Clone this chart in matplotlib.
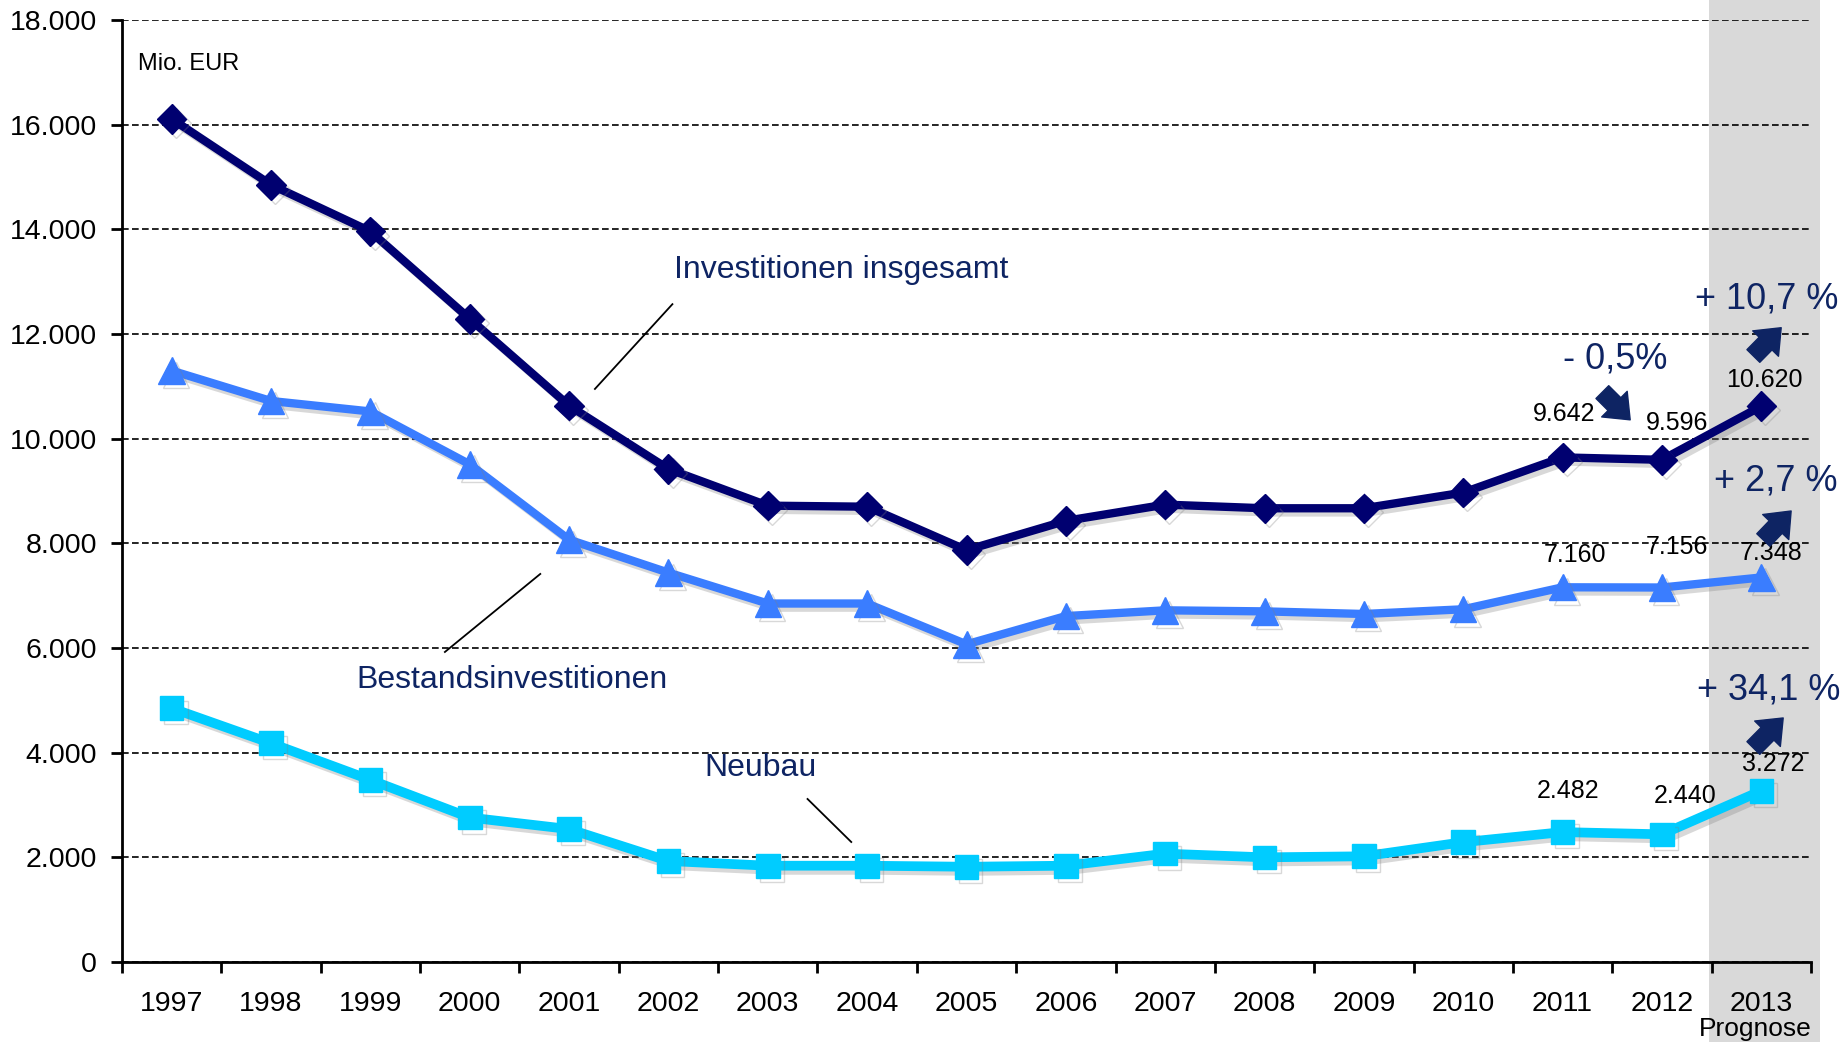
import matplotlib
matplotlib.use("Agg")
import matplotlib.pyplot as plt
import matplotlib.patheffects as pe
from matplotlib.patches import Rectangle
from matplotlib.ticker import FuncFormatter, FixedLocator

plt.rcParams['font.family'] = ['Liberation Sans', 'DejaVu Sans']

# data (Mio. EUR)
years = ['1997', '1998', '1999', '2000', '2001', '2002', '2003', '2004', '2005',
         '2006', '2007', '2008', '2009', '2010', '2011', '2012', '2013']
insgesamt = [16110, 14850, 13960, 12290, 10630, 9420, 8720, 8700, 7870,
             8430, 8740, 8670, 8670, 8970, 9642, 9596, 10620]
bestand = [11300, 10720, 10520, 9510, 8070, 7440, 6850, 6850, 6070,
           6610, 6720, 6700, 6650, 6740, 7160, 7156, 7348]
neubau = [4850, 4180, 3480, 2760, 2540, 1930, 1840, 1840, 1820,
          1840, 2070, 2000, 2020, 2290, 2482, 2440, 3272]

# labelled values: (series, year index, pixel offset)
value_labels = [
    (insgesamt, 14, (2, 43)), (insgesamt, 15, (15, 37)), (insgesamt, 16, (3, 26)),
    (bestand, 14, (12, 32)), (bestand, 15, (15, 41)), (bestand, 16, (10, 24)),
    (neubau, 14, (5, 41)), (neubau, 15, (23, 38)), (neubau, 16, (12, 27)),
]

navy = '#000070'
blue = '#3A7DFF'
cyan = '#00CCFF'
textblue = '#0E2463'


def de_fmt(v, pos=None):
    return f'{int(round(v)):,}'.replace(',', '.')


fig = plt.figure(figsize=(18.48, 10.42), dpi=100)
ax = fig.add_axes([122 / 1848, 1 - 962 / 1042, (1811 - 122) / 1848, (962 - 20) / 1042])
ax.set_facecolor('none')

# prognosis band behind everything
fig.patches.append(Rectangle((1709 / 1848, 0), (1820 - 1709) / 1848, 1,
                             transform=fig.transFigure, facecolor='#D9D9D9',
                             edgecolor='none', zorder=-10))

x = list(range(len(years)))
shadow = [pe.SimpleLineShadow(offset=(3, -3), alpha=0.3, shadow_color='gray'), pe.Normal()]

ax.plot(x, neubau, color=cyan, lw=7, marker='s', ms=17, zorder=3, path_effects=shadow)
ax.plot(x, bestand, color=blue, lw=6, marker='^', ms=19, zorder=3, path_effects=shadow)
ax.plot(x, insgesamt, color=navy, lw=6, marker='D', ms=15, zorder=4, path_effects=shadow)

ax.set_xlim(-0.5, len(years) - 0.5)
ax.set_ylim(0, 18000)
ax.set_yticks(range(0, 18001, 2000))
ax.yaxis.set_major_formatter(FuncFormatter(de_fmt))
ax.set_xticks(x)
ax.set_xticklabels(years)
ax.xaxis.set_minor_locator(FixedLocator([i - 0.5 for i in range(len(years) + 1)]))
ax.tick_params(axis='x', which='major', length=0, pad=21, labelsize=20.5)
ax.tick_params(axis='x', which='minor', length=8, width=2, direction='out')
ax.tick_params(axis='y', length=8, width=2, direction='out', pad=10, labelsize=20.5)

ax.yaxis.grid(True, color='black', linestyle=(0, (4, 2)), linewidth=1.2)
ax.set_axisbelow(True)
for s in ['top', 'right']:
    ax.spines[s].set_visible(False)
for s in ['left', 'bottom']:
    ax.spines[s].set_linewidth(2)

ax.text(138 / 1848, 1 - 64 / 1042, 'Mio. EUR', transform=fig.transFigure,
        fontsize=17, va='center', ha='left')

# series names with leader lines
ax.text(6.74, 13220, 'Investitionen insgesamt', color=textblue, fontsize=23,
        ha='center', va='center')
ax.plot([5.04, 4.26], [12570, 10950], color='black', lw=1.3)
ax.text(3.43, 5390, 'Bestandsinvestitionen', color=textblue, fontsize=23,
        ha='center', va='center')
ax.plot([3.71, 2.75], [7415, 5924], color='black', lw=1.3)
ax.text(5.93, 3707, 'Neubau', color=textblue, fontsize=23, ha='center', va='center')
ax.plot([6.40, 6.84], [3115, 2293], color='black', lw=1.3)

# value labels
for series, i, off in value_labels:
    ax.annotate(de_fmt(series[i]), (i, series[i]), xytext=off,
                textcoords='offset pixels', ha='center', va='center', fontsize=18)

# change annotations
ax.text(16.05, 12670, '+ 10,7 %', color=textblue, fontsize=26, ha='center', va='center')
ax.text(14.53, 11520, '- 0,5%', color=textblue, fontsize=26, ha='center', va='center')
ax.text(16.15, 9190, '+ 2,7 %', color=textblue, fontsize=26, ha='center', va='center')
ax.text(16.07, 5200, '+ 34,1 %', color=textblue, fontsize=26, ha='center', va='center')

arrows = [((15.92, 11580), (16.20, 12120)),
          ((14.40, 10890), (14.68, 10360)),
          ((16.02, 8064), (16.30, 8618)),
          ((15.92, 4089), (16.22, 4663))]
for tail, head in arrows:
    ax.annotate('', xy=head, xytext=tail,
                arrowprops=dict(arrowstyle='simple,head_length=0.8,head_width=1.3,tail_width=0.65',
                                color=textblue, mutation_scale=20, shrinkA=0, shrinkB=0))

fig.text(1755 / 1848, 1 - 1029 / 1042, 'Prognose', fontsize=19, ha='center', va='center')

fig.savefig('out.png', dpi=100)
